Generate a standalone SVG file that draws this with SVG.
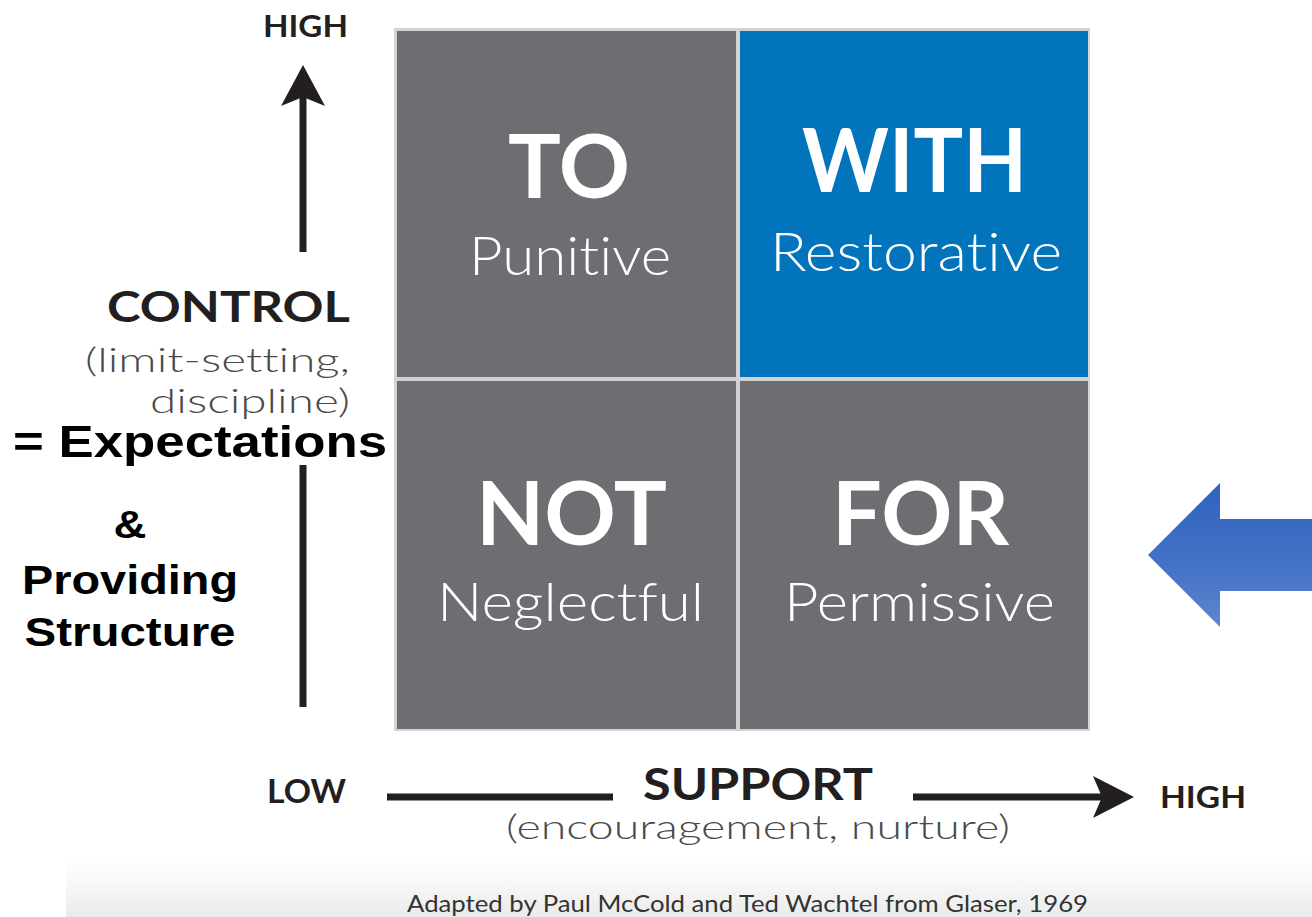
<svg xmlns="http://www.w3.org/2000/svg" width="1312" height="917" viewBox="0 0 1312 917">
<defs>
<style>
text{font-variant-ligatures:none;font-feature-settings:"liga" 0,"clig" 0,"dlig" 0}
.title{font-family:Lato,"Open Sans","Liberation Sans",sans-serif;font-weight:700;fill:#ffffff;font-size:88px;text-anchor:middle}
.sub{font-family:Lato,"Open Sans","Liberation Sans",sans-serif;font-weight:300;fill:#ffffff;font-size:54px;text-anchor:middle}
.axis{font-family:Lato,"Open Sans","Liberation Sans",sans-serif;font-weight:700;fill:#231f20}
.axsub{font-family:Lato,"Open Sans","Liberation Sans",sans-serif;font-weight:300;fill:#4a4a4a}
.note{font-family:"Liberation Sans",Arial,sans-serif;font-weight:700;fill:#000000}
.cell{fill:#6d6e71}
.line{stroke:#231f20;stroke-width:7;fill:none}
.head{fill:#231f20}
</style>
<linearGradient id="bg" x1="0" y1="0" x2="0" y2="1">
<stop offset="0" stop-color="#ffffff"/>
<stop offset="1" stop-color="#ebebeb"/>
</linearGradient>
<linearGradient id="blueArrow" x1="0" y1="0" x2="0" y2="1">
<stop offset="0" stop-color="#3062bd"/>
<stop offset="0.6" stop-color="#4473c7"/>
<stop offset="1" stop-color="#5f86cd"/>
</linearGradient>
</defs>
<rect x="0" y="0" width="1312" height="917" fill="#ffffff"/>
<rect x="66" y="860" width="1246" height="57" fill="url(#bg)"/>

<g id="grid">
<rect x="394" y="28" width="696" height="703" fill="#d3d3d3"/>
</g>
<g id="node-to">
<rect class="cell" x="397" y="31" width="339" height="346"/>
<text class="title" x="569" y="198" textLength="122" lengthAdjust="spacingAndGlyphs">TO</text>
<text class="sub" x="570" y="275" textLength="202" lengthAdjust="spacingAndGlyphs">Punitive</text>
</g>
<g id="node-with">
<rect x="740" y="31" width="348" height="346" fill="#0174bc"/>
<text class="title" x="914.5" y="192" textLength="225" lengthAdjust="spacingAndGlyphs">WITH</text>
<text class="sub" x="916" y="271" textLength="292" lengthAdjust="spacingAndGlyphs">Restorative</text>
</g>
<g id="node-not">
<rect class="cell" x="397" y="381" width="339" height="348"/>
<text class="title" x="571.5" y="545" textLength="191" lengthAdjust="spacingAndGlyphs">NOT</text>
<text class="sub" x="570.5" y="621" textLength="267" lengthAdjust="spacingAndGlyphs">Neglectful</text>
</g>
<g id="node-for">
<rect class="cell" x="740" y="381" width="348" height="348"/>
<text class="title" x="920.5" y="545" textLength="177" lengthAdjust="spacingAndGlyphs">FOR</text>
<text class="sub" x="919.5" y="621" textLength="271" lengthAdjust="spacingAndGlyphs">Permissive</text>
</g>

<g id="connectors">
<line class="line" x1="303" y1="252" x2="303" y2="96"/>
<path class="head" d="M303,65 L325,106 L303,97 L281,106 Z"/>
<line class="line" x1="303" y1="465" x2="303" y2="707"/>
<line class="line" x1="387" y1="797" x2="613" y2="797"/>
<line class="line" x1="913" y1="797" x2="1104" y2="797"/>
<path class="head" d="M1134,797 L1093,776 L1102,797 L1093,818 Z"/>
</g>

<g id="axis-control">
<text class="axis" x="263" y="37" font-size="31" textLength="85" lengthAdjust="spacingAndGlyphs">HIGH</text>
<text class="axis" x="350" y="322" font-size="42" text-anchor="end" textLength="243" lengthAdjust="spacingAndGlyphs">CONTROL</text>
<text class="axsub" x="350" y="372" font-size="34" text-anchor="end" textLength="265" lengthAdjust="spacingAndGlyphs">(limit-setting,</text>
<text class="axsub" x="350" y="413" font-size="34" text-anchor="end" textLength="200" lengthAdjust="spacingAndGlyphs">discipline)</text>
</g>

<g id="axis-support">
<text class="axis" x="267" y="803" font-size="33" textLength="79" lengthAdjust="spacingAndGlyphs">LOW</text>
<text class="axis" x="643" y="800" font-size="44" textLength="230" lengthAdjust="spacingAndGlyphs">SUPPORT</text>
<text class="axsub" x="506" y="839" font-size="34" textLength="504" lengthAdjust="spacingAndGlyphs">(encouragement, nurture)</text>
<text class="axis" x="1160" y="808" font-size="31" textLength="86" lengthAdjust="spacingAndGlyphs">HIGH</text>
</g>

<g id="note-expectations">
<text class="note" x="13" y="457" font-size="45" textLength="374" lengthAdjust="spacingAndGlyphs">= Expectations</text>
<text class="note" x="130" y="538" font-size="39" text-anchor="middle" textLength="33" lengthAdjust="spacingAndGlyphs">&amp;</text>
<text class="note" x="130" y="594" font-size="40" text-anchor="middle" textLength="216" lengthAdjust="spacingAndGlyphs">Providing</text>
<text class="note" x="130" y="646" font-size="40" text-anchor="middle" textLength="211" lengthAdjust="spacingAndGlyphs">Structure</text>
</g>

<g id="credit">
<text class="axsub" x="407" y="912" font-size="23" textLength="681" lengthAdjust="spacingAndGlyphs" style="font-weight:400;fill:#333333">Adapted by Paul McCold and Ted Wachtel from Glaser, 1969</text>
</g>

<g id="blue-arrow">
<path d="M1148,555 L1220,483 L1220,519 L1312,519 L1312,591 L1220,591 L1220,627 Z" fill="url(#blueArrow)"/>
</g>
</svg>
